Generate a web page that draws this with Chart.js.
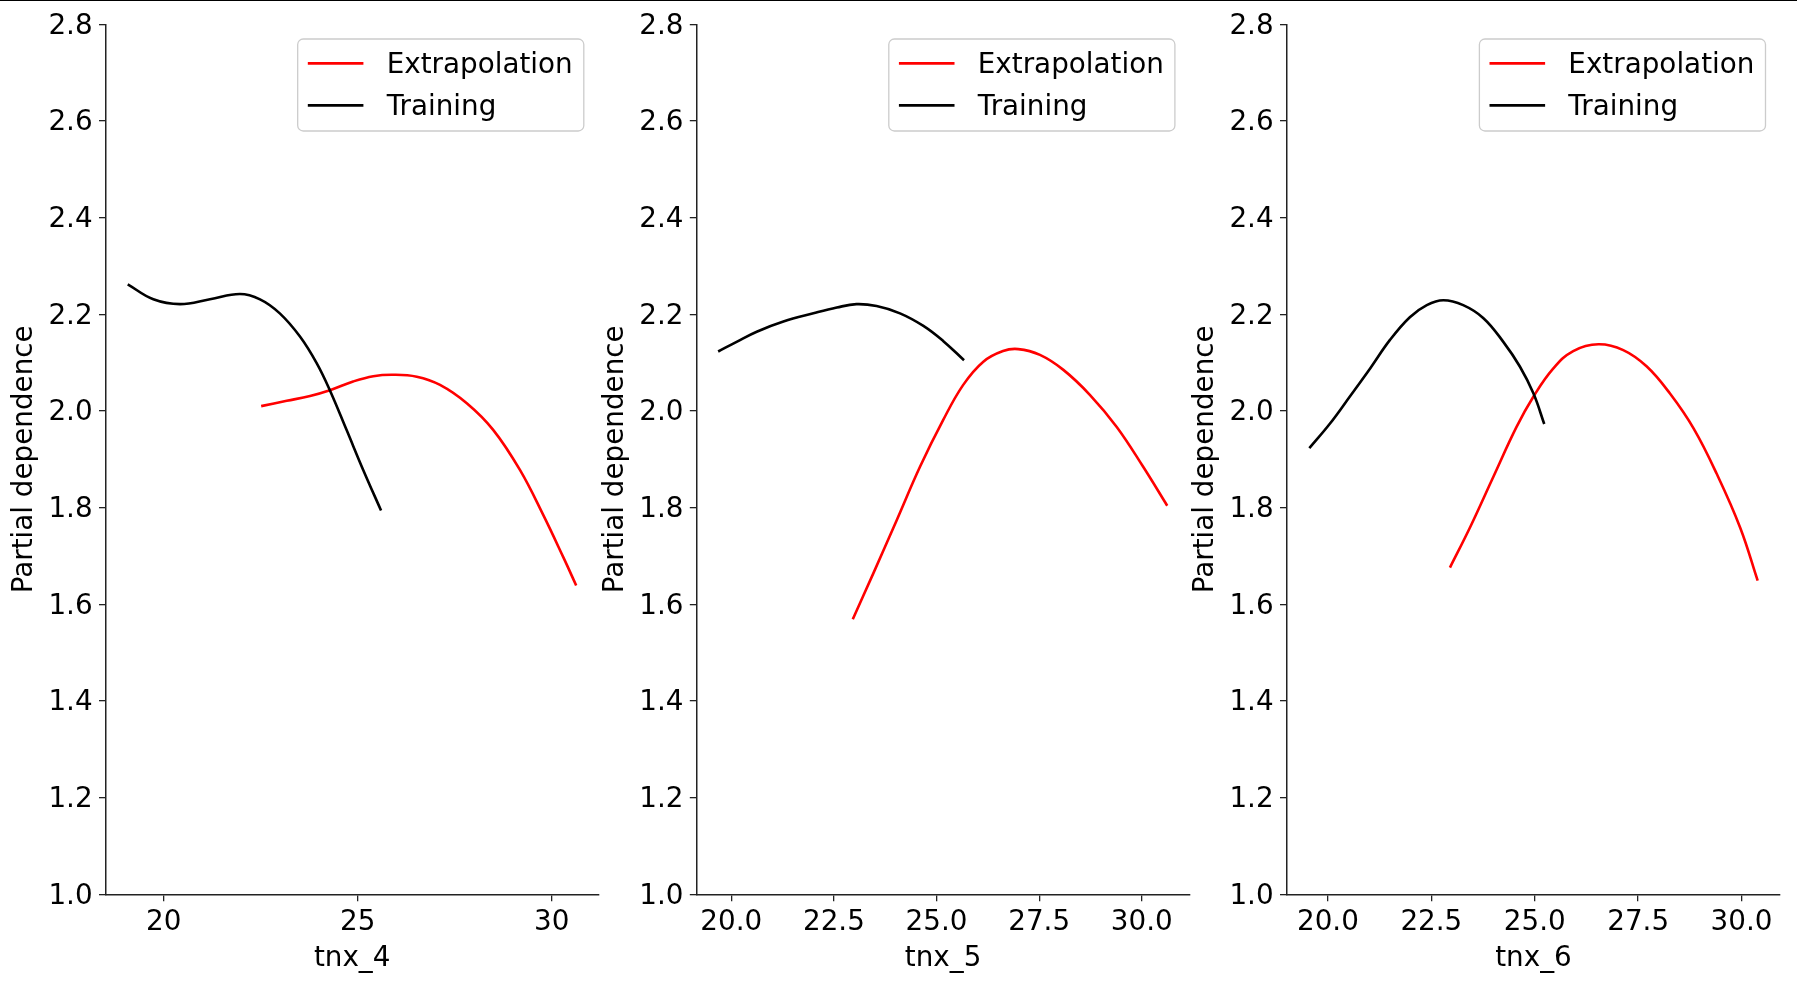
<!DOCTYPE html>
<html>
<head>
<meta charset="utf-8">
<script src="https://cdn.jsdelivr.net/npm/chart.js@4.4.1/dist/chart.umd.min.js"></script>
<style>
html,body{margin:0;padding:0;background:#fff;width:1797px;height:987px;overflow:hidden;}
#topline{position:absolute;left:0;top:0;width:1797px;height:1px;background:#000;}
canvas{position:absolute;top:0;}
</style>
</head>
<body>
<div id="topline"></div>
<canvas id="c4" width="608" height="987" style="left:0px"></canvas>
<canvas id="c5" width="608" height="987" style="left:591px"></canvas>
<canvas id="c6" width="616" height="987" style="left:1181px"></canvas>
<script>
// ---------- data ----------
const seriesNames = ['Extrapolation', 'Training'];
const featureNames = ['tnx_4', 'tnx_5', 'tnx_6'];
const yTicks = [1.0, 1.2, 1.4, 1.6, 1.8, 2.0, 2.2, 2.4, 2.6, 2.8];
const xTicks4 = [20, 25, 30];
const xTicks5 = [20.0, 22.5, 25.0, 27.5, 30.0];
const xTicks6 = [20.0, 22.5, 25.0, 27.5, 30.0];

const train4X = [19.07, 19.73, 20.42, 21.19, 21.96, 22.48, 22.99, 23.51, 23.94, 24.28, 24.71, 25.14, 25.60];
const train4Y = [2.262, 2.231, 2.221, 2.231, 2.242, 2.231, 2.202, 2.154, 2.099, 2.043, 1.961, 1.878, 1.794];
const extra4X = [22.51, 23.17, 23.77, 24.28, 24.88, 25.40, 25.91, 26.52, 27.12, 27.81, 28.49, 29.18, 29.78, 30.30, 30.63];
const extra4Y = [2.010, 2.021, 2.031, 2.043, 2.061, 2.072, 2.075, 2.071, 2.054, 2.016, 1.961, 1.878, 1.785, 1.697, 1.639];

const train5X = [19.68, 20.13, 20.62, 21.27, 22.00, 22.57, 23.05, 23.54, 24.11, 24.68, 25.16, 25.67];
const train5Y = [2.123, 2.143, 2.164, 2.185, 2.202, 2.214, 2.221, 2.217, 2.202, 2.176, 2.145, 2.105];
const extra5X = [22.96, 23.46, 24.03, 24.60, 25.16, 25.65, 26.14, 26.62, 26.99, 27.52, 28.09, 28.74, 29.39, 30.03, 30.62];
const extra5Y = [1.569, 1.664, 1.774, 1.885, 1.981, 2.054, 2.102, 2.124, 2.128, 2.116, 2.085, 2.033, 1.967, 1.885, 1.804];

const train6X = [19.55, 20.05, 20.53, 21.02, 21.50, 21.98, 22.39, 22.79, 23.27, 23.76, 24.24, 24.64, 24.97, 25.23];
const train6Y = [1.923, 1.974, 2.030, 2.088, 2.147, 2.194, 2.219, 2.229, 2.219, 2.192, 2.143, 2.092, 2.036, 1.973];
const extra6X = [22.95, 23.44, 24.00, 24.56, 24.97, 25.45, 25.93, 26.54, 27.14, 27.71, 28.27, 28.84, 29.40, 29.97, 30.39];
const extra6Y = [1.676, 1.760, 1.864, 1.967, 2.030, 2.088, 2.124, 2.138, 2.126, 2.092, 2.036, 1.964, 1.870, 1.758, 1.649];

// ---------- styling / layout ----------
const FS = 27.8;
const FONT = 'DejaVu Sans';
const AXIS_COLOR = '#222';
const LW = 2.6;
Chart.defaults.font.family = FONT;
Chart.defaults.font.size = FS;
Chart.defaults.color = '#000';

const pts = (xs, ys) => xs.map((x, i) => ({x: x, y: ys[i]}));

const legendBox = {
  id: 'legendBox',
  afterDraw(chart) {
    const ctx = chart.ctx, a = chart.chartArea;
    const ds = chart.data.datasets;
    ctx.save();
    ctx.font = FS + 'px "' + FONT + '"';
    const tw = Math.max(...ds.map(d => ctx.measureText(d.label).width));
    const pad = 0.4 * FS, hl = 2.0 * FS, htp = 0.8 * FS;
    const w = pad + hl + htp + tw + pad;
    const h = 3.31 * FS;
    const x0 = a.right - 14.5 - w;
    const y0 = a.top + 14.7;
    ctx.beginPath();
    ctx.roundRect(x0, y0, w, h, 0.2 * FS);
    ctx.fillStyle = 'rgba(255,255,255,0.8)';
    ctx.fill();
    ctx.lineWidth = 1.3;
    ctx.strokeStyle = '#cccccc';
    ctx.stroke();
    ds.forEach((d, i) => {
      const cy = y0 + 0.84 * FS + 1 + i * 1.51 * FS;
      ctx.beginPath();
      ctx.moveTo(x0 + pad - 1, cy);
      ctx.lineTo(x0 + pad - 1 + hl, cy);
      ctx.strokeStyle = d.borderColor;
      ctx.lineWidth = d.borderWidth;
      ctx.stroke();
      ctx.fillStyle = '#000';
      ctx.textAlign = 'left';
      ctx.textBaseline = 'middle';
      ctx.fillText(d.label, x0 + pad + hl + htp, cy + 2);
    });
    ctx.restore();
  }
};

function makeChart(id, cfg) {
  return new Chart(document.getElementById(id), {
    type: 'line',
    data: {
      datasets: [
        {label: seriesNames[0], data: pts(cfg.ex, cfg.ey), borderColor: '#ff0000', borderWidth: LW,
         pointRadius: 0, fill: false, tension: 0.4, order: 1},
        {label: seriesNames[1], data: pts(cfg.tx, cfg.ty), borderColor: '#000000', borderWidth: LW,
         pointRadius: 0, fill: false, tension: 0.4, order: 0}
      ]
    },
    options: {
      responsive: false,
      animation: false,
      devicePixelRatio: 1,
      events: [],
      layout: {padding: {left: 0, top: 24.3, right: cfg.rightPad, bottom: 0}},
      plugins: {legend: {display: false}, tooltip: {enabled: false}},
      scales: {
        x: {
          type: 'linear',
          min: cfg.xmin, max: cfg.xmax,
          afterBuildTicks: s => { s.ticks = cfg.xt.map(v => ({value: v})); },
          afterFit: s => { s.height = 92.7; },
          ticks: {padding: 5, maxRotation: 0, autoSkip: false,
                  callback: v => v.toFixed(cfg.dec), font: {size: FS, lineHeight: 1.2}, color: '#000'},
          grid: {drawOnChartArea: false, drawTicks: true, tickLength: 7, color: AXIS_COLOR, lineWidth: 1.3},
          border: {display: true, color: AXIS_COLOR, width: 1.5},
          title: {display: true, text: cfg.name, color: '#000', font: {size: FS, lineHeight: 1.2},
                  padding: {top: 0, bottom: 12}}
        },
        y: {
          type: 'linear',
          min: 1.0, max: 2.8,
          afterBuildTicks: s => { s.ticks = yTicks.map(v => ({value: v})); },
          afterFit: s => { s.width = cfg.yw; },
          ticks: {padding: 6.4, labelOffset: 2, autoSkip: false, callback: v => v.toFixed(1),
                  font: {size: FS, lineHeight: 1.2}, color: '#000'},
          grid: {drawOnChartArea: false, drawTicks: true, tickLength: 7, color: AXIS_COLOR, lineWidth: 1.3},
          border: {display: true, color: AXIS_COLOR, width: 1.5},
          title: {display: true, text: 'Partial dependence', color: '#000', font: {size: FS, lineHeight: 1.2},
                  padding: {top: 8, bottom: 0}}
        }
      }
    },
    plugins: [legendBox]
  });
}

makeChart('c4', {name: featureNames[0], tx: train4X, ty: train4Y, ex: extra4X, ey: extra4Y,
  xmin: 18.51, xmax: 31.20, xt: xTicks4, dec: 0, yw: 106, rightPad: 9.7});
makeChart('c5', {name: featureNames[1], tx: train5X, ty: train5Y, ex: extra5X, ey: extra5Y,
  xmin: 19.16, xmax: 31.16, xt: xTicks5, dec: 1, yw: 105.8, rightPad: 9.6});
makeChart('c6', {name: featureNames[2], tx: train6X, ty: train6Y, ex: extra6X, ey: extra6Y,
  xmin: 19.01, xmax: 30.93, xt: xTicks6, dec: 1, yw: 106, rightPad: 17});
</script>
</body>
</html>
